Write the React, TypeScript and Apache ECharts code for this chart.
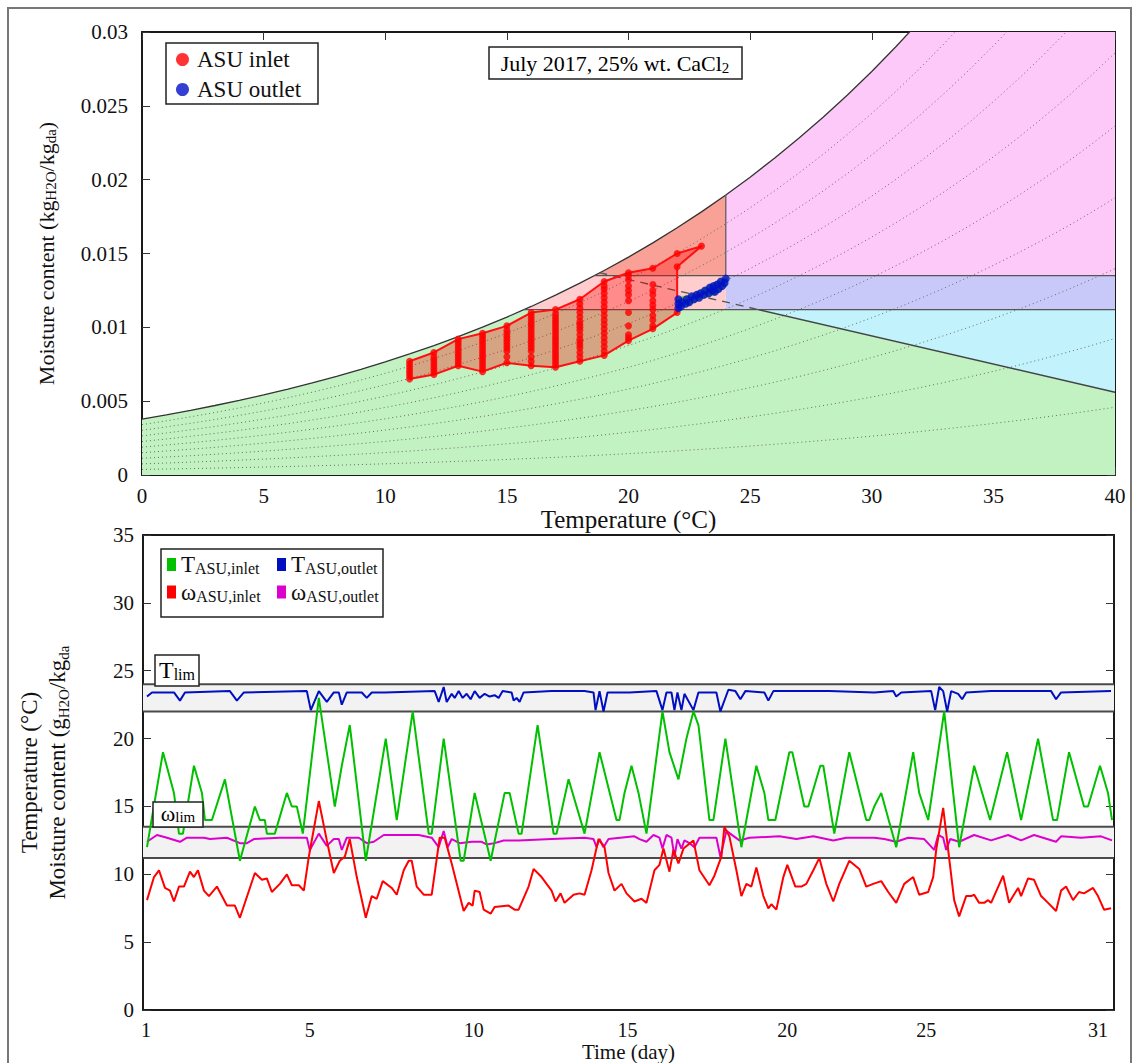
import React, { useEffect, useRef } from 'react';
import * as echarts from 'echarts';

const SERIF = 'Liberation Serif';

// ---------- Psychrometric chart (top) ----------
const satTemps = [0, 1, 2, 3, 4, 5, 6, 7, 8, 9, 10, 11, 12, 13, 14, 15, 16, 17, 18, 19, 20, 21, 22, 23, 24, 25, 26, 27, 28, 29, 30, 31, 32, 33, 34, 35, 36, 37, 38, 39, 40];
const satOmega = [0.003789, 0.004076, 0.004381, 0.004707, 0.005054, 0.005424, 0.005818, 0.006237, 0.006683, 0.007157, 0.007661, 0.008197, 0.008766, 0.00937, 0.010012, 0.010692, 0.011413, 0.012178, 0.012989, 0.013848, 0.014758, 0.015721, 0.016741, 0.017821, 0.018963, 0.02017, 0.021448, 0.022798, 0.024226, 0.025735, 0.027329, 0.029014, 0.030793, 0.032674, 0.03466, 0.036756, 0.038971, 0.041309, 0.043778, 0.046386, 0.049141];
const atmPressure = 101.325;
const rhLevels = [0.1, 0.2, 0.3, 0.4, 0.5, 0.6, 0.7, 0.8, 0.9];
const omegaLimits = [0.0112, 0.0135];
const tempLimits = [22, 24];
const enthalpyLine = [[18.8, 0.0137], [40, 0.0056]];
const inletTemps = [11, 12, 13, 14, 15, 16, 17, 18, 19, 20, 21, 22, 23];
const inletOmegas = [
  [0.0065, 0.0067, 0.0069, 0.0071, 0.0073, 0.0075, 0.0077],
  [0.0068, 0.007, 0.0072, 0.0074, 0.0076, 0.0078, 0.008, 0.0083],
  [0.0074, 0.0076, 0.0078, 0.008, 0.0082, 0.0084, 0.0086, 0.0088, 0.009, 0.0092],
  [0.007, 0.0072, 0.0074, 0.0076, 0.0078, 0.008, 0.0082, 0.0084, 0.0086, 0.0088, 0.009, 0.0092, 0.0094, 0.0096],
  [0.0076, 0.008, 0.0084, 0.0086, 0.0088, 0.009, 0.0092, 0.0094, 0.0096, 0.0098, 0.0101],
  [0.0074, 0.0077, 0.008, 0.0084, 0.0086, 0.0088, 0.009, 0.0092, 0.0094, 0.0096, 0.0098, 0.01, 0.0102, 0.0104, 0.0106, 0.0108, 0.011],
  [0.0073, 0.0075, 0.0077, 0.0079, 0.0081, 0.0083, 0.0085, 0.0087, 0.0089, 0.0091, 0.0093, 0.0095, 0.0097, 0.0099, 0.0101, 0.0103, 0.0105, 0.0107, 0.0109, 0.0112],
  [0.0077, 0.008, 0.0083, 0.0086, 0.0088, 0.009, 0.0092, 0.0095, 0.0098, 0.01, 0.0102, 0.0104, 0.0107, 0.011, 0.0113, 0.0116, 0.0119],
  [0.0081, 0.0084, 0.0087, 0.009, 0.0093, 0.0096, 0.0099, 0.0102, 0.0105, 0.0108, 0.0111, 0.0114, 0.0117, 0.012, 0.0123, 0.0126, 0.0128, 0.0131],
  [0.0091, 0.0093, 0.0095, 0.0101, 0.011, 0.0118, 0.0122, 0.0125, 0.0128, 0.0132, 0.0135, 0.0137],
  [0.0099, 0.0101, 0.0105, 0.0108, 0.0112, 0.0115, 0.0118, 0.0122, 0.0125, 0.0129, 0.014],
  [0.011, 0.0141, 0.015],
  [0.0155],
];
const inletHull = [[11, 0.0077], [12, 0.0083], [13, 0.0092], [14, 0.0096], [15, 0.0101], [16, 0.011], [17, 0.0112], [18, 0.0119], [19, 0.0131], [20, 0.0137], [21, 0.014], [22, 0.015], [23, 0.0155], [22, 0.0141], [22, 0.011], [21, 0.0099], [20, 0.0091], [19, 0.0081], [18, 0.0077], [17, 0.0073], [16, 0.0074], [15, 0.0076], [14, 0.007], [13, 0.0074], [12, 0.0068], [11, 0.0065]];
const outletPoints = [[22.05, 0.0113], [22.05, 0.0116], [22.05, 0.0119], [22.15, 0.0114], [22.2, 0.0117], [22.35, 0.0116], [22.4, 0.0119], [22.5, 0.0117], [22.6, 0.0121], [22.7, 0.0119], [22.8, 0.0122], [22.9, 0.012], [22.95, 0.0123], [23.1, 0.0122], [23.15, 0.0125], [23.3, 0.0123], [23.35, 0.0127], [23.45, 0.0125], [23.5, 0.0128], [23.55, 0.0124], [23.65, 0.0129], [23.7, 0.0126], [23.8, 0.0131], [23.85, 0.0128], [23.95, 0.013], [24.0, 0.0133]];
const outletHull = [[22.0, 0.0112], [22.4, 0.0114], [23.0, 0.0119], [23.6, 0.0122], [24.05, 0.0128], [24.1, 0.0134], [23.8, 0.0133], [23.0, 0.0126], [22.5, 0.0122], [22.0, 0.012]];

// ---------- Time series (bottom) ----------
const sampleMax = 972;
const dayTickIndex = [3, 167, 331, 485, 645, 784, 956];
const dayTickLabels = ['1', '5', '10', '15', '20', '25', '31'];
const tLimBand = [22, 24];
const wLimBand = [11.2, 13.5];
const tInlet = [[4, 12], [20, 19], [31, 16], [36, 13], [40, 13], [51, 18], [59, 16], [62, 14], [69, 14], [82, 17], [97, 11], [112, 15], [117, 14], [122, 14], [124, 13], [132, 13], [144, 16], [149, 15], [154, 15], [160, 13], [176, 23], [192, 15], [199, 18], [207, 21], [223, 11], [243, 20], [254, 14], [270, 22], [286, 13], [289, 13], [301, 20], [318, 11], [321, 11], [332, 16], [348, 11], [362, 16], [367, 16], [376, 13], [379, 13], [395, 21], [411, 13], [414, 13], [426, 17], [442, 13], [457, 19], [474, 14], [477, 14], [482, 16], [489, 18], [496, 16], [504, 13], [520, 22], [527, 19], [536, 17], [544, 20], [551, 22], [556, 21], [567, 14], [571, 14], [583, 20], [599, 12], [614, 18], [622, 16], [626, 14], [633, 14], [647, 19], [650, 19], [662, 15], [666, 15], [678, 18], [681, 18], [692, 13], [707, 19], [724, 14], [727, 14], [732, 15], [739, 16], [754, 12], [771, 19], [777, 16], [786, 14], [802, 22], [817, 12], [832, 18], [848, 14], [865, 19], [879, 14], [896, 20], [911, 14], [915, 14], [927, 19], [942, 15], [946, 15], [958, 18], [966, 16], [970, 14]];
const tOutlet = [[4, 23.1], [9, 23.4], [31, 23.4], [37, 22.8], [42, 23.4], [87, 23.5], [94, 22.8], [101, 23.4], [164, 23.5], [168, 22.1], [176, 23.5], [184, 22.7], [191, 23.4], [196, 23.4], [199, 22.5], [204, 23.4], [219, 23.4], [224, 23.0], [229, 23.4], [242, 23.4], [292, 23.5], [296, 22.7], [301, 23.8], [304, 22.7], [309, 23.3], [312, 23.0], [316, 23.5], [320, 23.0], [324, 23.3], [328, 22.9], [332, 23.5], [337, 23.0], [342, 23.3], [347, 23.1], [352, 23.2], [356, 23.0], [360, 23.5], [369, 23.4], [371, 22.8], [374, 23.0], [377, 22.7], [381, 23.4], [409, 23.5], [442, 23.5], [451, 23.4], [453, 22.1], [457, 23.5], [461, 22.0], [465, 23.4], [487, 23.4], [514, 23.5], [520, 22.1], [524, 23.4], [529, 23.4], [532, 22.1], [535, 23.4], [539, 22.1], [542, 23.3], [551, 22.1], [556, 23.4], [574, 23.4], [578, 22.0], [586, 23.6], [593, 23.5], [598, 22.9], [603, 23.5], [622, 23.4], [626, 22.8], [631, 23.5], [687, 23.5], [732, 23.4], [751, 23.5], [754, 23.1], [759, 23.4], [789, 23.5], [793, 22.1], [797, 23.8], [801, 23.5], [805, 22.0], [809, 23.5], [816, 23.3], [820, 22.9], [824, 23.4], [849, 23.5], [909, 23.5], [914, 22.9], [919, 23.4], [969, 23.5]];
const wInlet = [[4, 8.1], [11, 9.8], [16, 10.3], [22, 9.0], [27, 8.8], [31, 8.0], [36, 9.1], [41, 9.1], [47, 10.2], [51, 9.8], [55, 10.3], [61, 8.8], [66, 8.4], [74, 9.1], [84, 7.7], [92, 7.7], [97, 6.8], [112, 10.1], [119, 9.6], [124, 9.7], [129, 8.7], [137, 9.3], [144, 10.0], [149, 9.2], [156, 9.2], [161, 8.8], [166, 11.3], [176, 15.4], [184, 12.5], [191, 10.1], [197, 11.0], [202, 11.3], [207, 12.6], [214, 9.8], [223, 6.8], [229, 8.4], [234, 8.2], [240, 9.5], [249, 9.0], [254, 8.5], [261, 10.3], [266, 11.0], [269, 11.0], [274, 9.1], [281, 8.5], [289, 8.5], [297, 12.7], [302, 12.7], [309, 10.8], [321, 7.3], [326, 7.9], [330, 7.7], [332, 8.8], [337, 8.7], [341, 7.4], [348, 7.1], [352, 7.6], [366, 7.7], [372, 7.4], [376, 7.4], [386, 9.1], [391, 10.4], [399, 9.8], [409, 8.8], [413, 8.0], [418, 8.6], [422, 7.9], [431, 8.5], [437, 8.6], [442, 8.5], [449, 10.3], [456, 12.6], [462, 12.0], [466, 10.1], [472, 8.8], [479, 9.3], [484, 8.6], [492, 8.0], [499, 8.2], [504, 7.9], [512, 10.3], [517, 10.7], [521, 11.9], [527, 10.2], [531, 11.8], [536, 10.8], [541, 11.9], [551, 12.5], [557, 10.3], [567, 9.2], [572, 9.9], [579, 11.3], [582, 13.5], [587, 12.8], [594, 10.3], [599, 8.4], [604, 9.3], [609, 9.1], [614, 10.5], [621, 8.4], [626, 7.5], [629, 7.8], [634, 7.4], [641, 9.8], [645, 10.7], [653, 9.1], [659, 9.1], [664, 9.3], [671, 10.3], [677, 11.2], [684, 9.3], [691, 8.0], [697, 9.3], [707, 11.0], [717, 10.4], [724, 9.1], [731, 9.3], [739, 9.5], [746, 8.7], [754, 7.9], [762, 9.3], [771, 9.8], [777, 8.5], [786, 8.7], [791, 9.8], [794, 11.8], [801, 14.9], [806, 11.8], [812, 8.1], [817, 6.9], [824, 8.4], [829, 8.4], [832, 8.5], [837, 7.9], [842, 7.9], [846, 8.1], [849, 7.9], [861, 9.9], [867, 7.9], [871, 8.4], [876, 9.0], [879, 8.4], [886, 9.7], [892, 9.6], [899, 8.4], [906, 7.9], [914, 7.3], [919, 8.8], [924, 9.1], [931, 8.1], [937, 8.7], [942, 8.6], [951, 9.0], [956, 8.4], [962, 7.4], [969, 7.5]];
const wOutlet = [[4, 12.4], [14, 12.9], [24, 12.7], [37, 12.4], [44, 12.7], [61, 12.7], [67, 12.6], [84, 12.7], [97, 12.3], [104, 12.3], [111, 12.6], [137, 12.7], [164, 12.7], [167, 11.8], [176, 13.0], [184, 12.1], [191, 12.6], [196, 12.6], [199, 11.8], [204, 12.7], [216, 12.7], [224, 12.3], [231, 12.4], [241, 12.9], [276, 12.9], [289, 12.7], [296, 12.0], [301, 13.2], [305, 12.0], [309, 12.6], [317, 12.3], [329, 12.4], [339, 12.4], [344, 12.2], [352, 12.3], [361, 12.5], [376, 12.5], [409, 12.6], [442, 12.7], [451, 12.6], [454, 12.0], [457, 12.6], [461, 12.0], [466, 12.6], [492, 12.8], [497, 12.6], [504, 12.4], [511, 12.9], [517, 12.7], [520, 11.9], [524, 12.9], [529, 12.7], [532, 11.3], [535, 12.6], [539, 11.9], [542, 12.5], [547, 12.3], [552, 12.0], [557, 12.7], [574, 12.7], [578, 11.3], [584, 13.2], [597, 12.5], [607, 12.7], [637, 12.8], [654, 12.6], [671, 12.8], [691, 12.5], [704, 12.7], [732, 12.7], [742, 12.6], [754, 12.4], [766, 12.7], [782, 12.6], [792, 11.8], [796, 12.9], [801, 12.7], [804, 11.8], [808, 12.6], [817, 12.4], [832, 12.9], [849, 12.5], [866, 12.9], [879, 12.5], [892, 12.9], [914, 12.4], [919, 12.8], [939, 12.7], [959, 12.8], [970, 12.5]];

const X_MAX = 40;
const Y_MAX = 0.03;

function satAt(t: number) {
  const i = Math.min(Math.max(Math.floor(t), 0), satTemps.length - 2);
  const f = (t - satTemps[i]) / (satTemps[i + 1] - satTemps[i]);
  return satOmega[i] * (1 - f) + satOmega[i + 1] * f;
}
function tAtSat(w: number) {
  for (let i = 0; i < satOmega.length - 1; i++) {
    if (satOmega[i] <= w && satOmega[i + 1] >= w) {
      return satTemps[i] + ((w - satOmega[i]) / (satOmega[i + 1] - satOmega[i])) * (satTemps[i + 1] - satTemps[i]);
    }
  }
  return satTemps[satTemps.length - 1];
}
function satPath(t0: number, t1: number) {
  const pts: number[][] = [[t0, satAt(t0)]];
  satTemps.forEach((T, i) => {
    if (T > t0 && T < t1) pts.push([T, satOmega[i]]);
  });
  pts.push([t1, satAt(t1)]);
  return pts;
}

const rich = (big: number, small: number, lh: number) => ({
  n: { fontFamily: SERIF, fontSize: big, color: '#111', lineHeight: lh },
  s: { fontFamily: SERIF, fontSize: small, color: '#111', verticalAlign: 'bottom', lineHeight: Math.round(small * 0.6) },
});

function polySeries(pts: number[][], fill: string, z: number, stroke = 'none', lw = 0) {
  return {
    type: 'custom',
    xAxisIndex: 0,
    yAxisIndex: 0,
    z,
    silent: true,
    data: [pts[0]],
    renderItem: (_p: any, api: any) => ({
      type: 'polygon',
      shape: { points: pts.map((p) => api.coord(p)) },
      style: { fill, stroke, lineWidth: lw, lineJoin: 'round' },
    }),
  };
}
function segSeries(data: number[][], color: string, width: number, type: any = 'solid', z = 3, xi = 0, yi = 0) {
  return {
    type: 'line',
    data,
    xAxisIndex: xi,
    yAxisIndex: yi,
    showSymbol: false,
    symbol: 'none',
    silent: true,
    z,
    lineStyle: { color, width, type },
  };
}

function buildOption() {
  const [wLo, wHi] = omegaLimits;
  const tHi = tempLimits[1];
  const tA = tAtSat(wLo);
  const tC = tAtSat(wHi);
  const tTop = tAtSat(Y_MAX);
  const [e0, e1] = enthalpyLine;
  const tB = e0[0] + ((wLo - e0[1]) / (e1[1] - e0[1])) * (e1[0] - e0[0]);

  const green = [[0, 0], ...satPath(0, tA), [tB, wLo], e1, [X_MAX, 0]];
  const cyan = [[tB, wLo], [X_MAX, wLo], e1];
  const lightPink = [...satPath(tA, tC), [tHi, wHi], [tHi, wLo]];
  const lavender = [[tHi, wLo], [X_MAX, wLo], [X_MAX, wHi], [tHi, wHi]];
  const salmon = [...satPath(tC, tHi), [tHi, wHi]];
  const pink = [[tHi, wHi], ...satPath(tHi, tTop), [X_MAX, Y_MAX], [X_MAX, wHi]];

  const rhSeries = rhLevels.map((rh) =>
    segSeries(
      satTemps.map((T, i) => {
        const ws = satOmega[i];
        const ps = (atmPressure * ws) / (0.622 + ws);
        return [T, (0.622 * rh * ps) / (atmPressure - rh * ps)];
      }),
      '#6a6a6a',
      1,
      [1, 3],
      2
    )
  );

  const inletPts: number[][] = [];
  inletTemps.forEach((T, i) => inletOmegas[i].forEach((w) => inletPts.push([T, w])));

  const axisLine = { show: true, onZero: false, lineStyle: { color: '#1a1a1a', width: 2 } };
  const tick = { show: true, inside: true, length: 8, lineStyle: { color: '#333', width: 1 } };
  const lbl = { fontFamily: SERIF, fontSize: 21, color: '#111' };

  const legendRich = rich(23, 16, 24);
  const tsNames: Record<string, string> = {
    Tin: '{n|T}{s|ASU,inlet}',
    Tout: '{n|T}{s|ASU,outlet}',
    win: '{n|ω}{s|ASU,inlet}',
    wout: '{n|ω}{s|ASU,outlet}',
  };
  const tsLegend = (left: number, data: string[]) => ({
    data,
    orient: 'vertical',
    left,
    top: 553,
    padding: 0,
    icon: 'rect',
    itemWidth: 9,
    itemHeight: 13,
    itemGap: 4,
    selectedMode: false,
    formatter: (n: string) => tsNames[n],
    textStyle: { fontFamily: SERIF, rich: legendRich },
  });

  const bandSeries = {
    type: 'custom',
    xAxisIndex: 2,
    yAxisIndex: 2,
    z: 1,
    silent: true,
    data: [tLimBand, wLimBand],
    renderItem: (_p: any, api: any) => {
      const lo = api.value(0);
      const hi = api.value(1);
      const p1 = api.coord([0, hi]);
      const p2 = api.coord([sampleMax, lo]);
      return {
        type: 'group',
        children: [
          { type: 'rect', shape: { x: p1[0], y: p1[1], width: p2[0] - p1[0], height: p2[1] - p1[1] }, style: { fill: '#f2f2f2' } },
          { type: 'line', shape: { x1: p1[0], y1: p1[1], x2: p2[0], y2: p1[1] }, style: { stroke: '#4a4a4a', lineWidth: 2 } },
          { type: 'line', shape: { x1: p1[0], y1: p2[1], x2: p2[0], y2: p2[1] }, style: { stroke: '#4a4a4a', lineWidth: 2 } },
        ],
      };
    },
  };

  const tsLine = (name: string, data: number[][], color: string, z: number) => ({
    name,
    type: 'line',
    data,
    xAxisIndex: 2,
    yAxisIndex: 2,
    showSymbol: false,
    symbol: 'none',
    itemStyle: { color },
    lineStyle: { color, width: 2 },
    z,
  });

  const boxRich = rich(22, 15, 24);

  return {
    animation: false,
    backgroundColor: '#fff',
    textStyle: { fontFamily: SERIF },
    grid: [
      { left: 142, top: 32, width: 973, height: 443 },
      { left: 143, top: 535, width: 971, height: 477 },
    ],
    xAxis: [
      {
        gridIndex: 0, type: 'value', min: 0, max: X_MAX, interval: 5, position: 'bottom',
        axisLine, axisTick: tick, splitLine: { show: false },
        axisLabel: { ...lbl, margin: 10 },
        name: 'Temperature (°C)', nameLocation: 'middle', nameGap: 29,
        nameTextStyle: { fontFamily: SERIF, fontSize: 25, color: '#111' },
      },
      {
        gridIndex: 0, type: 'value', min: 0, max: X_MAX, interval: 5, position: 'top',
        axisLine, axisTick: tick, splitLine: { show: false }, axisLabel: { show: false },
      },
      {
        gridIndex: 1, type: 'value', min: 0, max: sampleMax, position: 'bottom',
        axisLine, axisTick: { show: false }, splitLine: { show: false },
        axisLabel: {
          ...lbl, fontSize: 20, margin: 10,
          customValues: dayTickIndex,
          formatter: (v: number) => {
            const k = dayTickIndex.indexOf(Math.round(v));
            return k >= 0 ? dayTickLabels[k] : '';
          },
        },
        name: 'Time (day)', nameLocation: 'middle', nameGap: 30,
        nameTextStyle: { fontFamily: SERIF, fontSize: 21, color: '#111' },
      },
      {
        gridIndex: 1, type: 'value', min: 0, max: sampleMax, position: 'top',
        axisLine, axisTick: { show: false }, splitLine: { show: false }, axisLabel: { show: false },
      },
    ],
    yAxis: [
      {
        gridIndex: 0, type: 'value', min: 0, max: Y_MAX, interval: 0.005, position: 'left',
        axisLine, axisTick: tick, splitLine: { show: false },
        axisLabel: { ...lbl, margin: 14, formatter: (v: number) => String(Number(v.toFixed(3))) },
        name: '{n|Moisture content (kg}{s|H2O}{n|/kg}{s|da}{n|)}', nameLocation: 'middle', nameGap: 84,
        nameTextStyle: { fontFamily: SERIF, rich: rich(22, 15, 24) },
      },
      {
        gridIndex: 0, type: 'value', min: 0, max: Y_MAX, interval: 0.005, position: 'right',
        axisLine, axisTick: tick, splitLine: { show: false }, axisLabel: { show: false },
      },
      {
        gridIndex: 1, type: 'value', min: 0, max: 35, interval: 5, position: 'left',
        axisLine, axisTick: tick, splitLine: { show: false },
        axisLabel: { ...lbl, margin: 9 },
        name: '{n|Temperature (°C)}\n{n|Moisture content (g}{s|H2O}{n|/kg}{s|da}',
        nameLocation: 'middle', nameGap: 72,
        nameTextStyle: { fontFamily: SERIF, rich: rich(23, 15, 28) },
      },
      {
        gridIndex: 1, type: 'value', min: 0, max: 35, interval: 5, position: 'right',
        axisLine, axisTick: tick, splitLine: { show: false }, axisLabel: { show: false },
      },
    ],
    legend: [
      {
        data: ['ASU inlet', 'ASU outlet'],
        orient: 'vertical', left: 176, top: 48, padding: 0,
        icon: 'circle', itemWidth: 13, itemHeight: 13, itemGap: 7,
        selectedMode: false,
        textStyle: { fontFamily: 'Times New Roman', fontSize: 23, color: '#111', padding: [0, 0, 0, 3] },
      },
      tsLegend(167, ['Tin', 'win']),
      tsLegend(277, ['Tout', 'wout']),
    ],
    graphic: {
      elements: [
        { type: 'rect', silent: true, z: 100, shape: { x: 8, y: 8, width: 1123, height: 1070 }, style: { fill: 'none', stroke: '#777', lineWidth: 2 } },
        { type: 'rect', silent: true, z: 100, shape: { x: 166, y: 43, width: 152, height: 61 }, style: { fill: 'none', stroke: '#222', lineWidth: 1.5 } },
        { type: 'rect', silent: true, z: 100, shape: { x: 489, y: 47, width: 253, height: 32 }, style: { fill: '#fff', stroke: '#222', lineWidth: 1.5 } },
        { type: 'text', silent: true, z: 101, x: 615, y: 63, style: { text: '{n|July 2017, 25% wt. CaCl}{s|2}', rich: boxRich, font: '22px Liberation Serif', align: 'center', verticalAlign: 'middle', textAlign: 'center', textVerticalAlign: 'middle' } },
        { type: 'rect', silent: true, z: 100, shape: { x: 161, y: 549, width: 222, height: 68 }, style: { fill: 'none', stroke: '#222', lineWidth: 1.5 } },
        { type: 'rect', silent: true, z: 100, shape: { x: 155, y: 655, width: 44, height: 31 }, style: { fill: '#fff', stroke: '#222', lineWidth: 1.5 } },
        { type: 'text', silent: true, z: 101, x: 177, y: 670, style: { text: '{n|T}{s|lim}', rich: rich(24, 16, 24), font: '24px Liberation Serif', align: 'center', verticalAlign: 'middle', textAlign: 'center', textVerticalAlign: 'middle' } },
        { type: 'rect', silent: true, z: 100, shape: { x: 153, y: 802, width: 50, height: 25 }, style: { fill: '#fff', stroke: '#222', lineWidth: 1.5 } },
        { type: 'text', silent: true, z: 101, x: 178, y: 813, style: { text: '{n|ω}{s|lim}', rich: rich(22, 15, 22), font: '22px Liberation Serif', align: 'center', verticalAlign: 'middle', textAlign: 'center', textVerticalAlign: 'middle' } },
      ],
    },
    series: [
      polySeries(green, '#c2f2c2', 1),
      polySeries(cyan, '#c2f2fb', 1),
      polySeries(lightPink, '#ffcdcd', 1),
      polySeries(lavender, '#c9c9f9', 1),
      polySeries(salmon, '#f9a196', 1),
      polySeries(pink, '#fdc9f8', 1),
      ...rhSeries,
      segSeries(satTemps.map((T, i) => [T, satOmega[i]]), '#333', 1.3, 'solid', 3),
      segSeries([[tC, wHi], [X_MAX, wHi]], '#555', 1.2, 'solid', 3),
      segSeries([[tA, wLo], [X_MAX, wLo]], '#555', 1.2, 'solid', 3),
      segSeries([[tHi, wHi], [tHi, satAt(tHi)]], '#555', 1.2, 'solid', 3),
      segSeries([e0, [tB, wLo]], '#555', 1.3, [8, 6], 3),
      segSeries([[tB, wLo], e1], '#444', 1.5, 'solid', 3),
      polySeries(inletHull, 'rgba(255,0,0,0.32)', 4, '#ff1010', 2),
      polySeries(outletHull, '#5fbf2a', 4),
      {
        name: 'ASU inlet', type: 'scatter', xAxisIndex: 0, yAxisIndex: 0, z: 5,
        data: inletPts, symbol: 'circle', symbolSize: 7, itemStyle: { color: '#ff0000' },
      },
      {
        name: 'ASU outlet', type: 'scatter', xAxisIndex: 0, yAxisIndex: 0, z: 5,
        data: outletPoints, symbol: 'circle', symbolSize: 8, itemStyle: { color: '#0010c8' },
      },
      bandSeries,
      tsLine('wout', wOutlet, '#dd00cc', 3),
      tsLine('Tout', tOutlet, '#0010c0', 3),
      tsLine('win', wInlet, '#ff0000', 4),
      tsLine('Tin', tInlet, '#00c000', 4),
    ],
  };
}

export default function App() {
  const ref = useRef<HTMLDivElement>(null);
  useEffect(() => {
    document.body.style.margin = '0';
    const chart = echarts.init(ref.current as HTMLDivElement, null, { renderer: 'svg' });
    chart.setOption(buildOption() as any);
    return () => chart.dispose();
  }, []);
  return <div ref={ref} style={{ width: 1137, height: 1063 }} />;
}
